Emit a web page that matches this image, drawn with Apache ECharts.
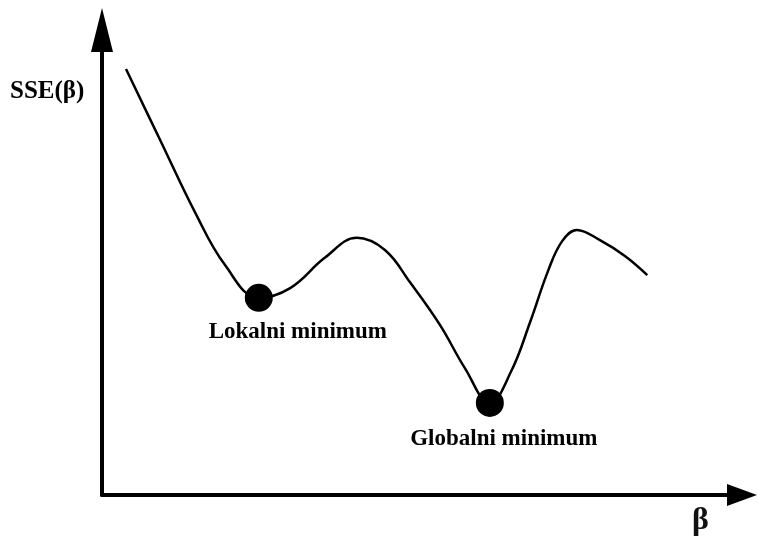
<!DOCTYPE html>
<html>
<head>
<meta charset="utf-8">
<script src="https://cdn.jsdelivr.net/npm/echarts@6/dist/echarts.min.js"></script>
<style>
  html, body { margin: 0; padding: 0; background: #fff; }
  #chart { width: 759px; height: 545px; }
</style>
</head>
<body>
<div id="chart"></div>
<script>
// SSE(β) krivulja - očitano sa slike
const betaValues = [0.375, 0.91, 1.45, 1.92, 2.45, 2.94, 3.48, 3.98, 4.42, 4.81, 5.28, 5.67, 6.06, 6.39, 6.69, 6.97, 7.19, 7.42, 7.78, 8.17, 8.52]
const sseValues = [9.16, 7.63, 6.09, 4.95, 4.24, 4.45, 5.10, 5.53, 5.27, 4.58, 3.66, 2.73, 1.98, 2.65, 3.72, 4.82, 5.46, 5.70, 5.48, 5.14, 4.73]

// minimumi
const minNames = ['Lokalni minimum', 'Globalni minimum']
const minBeta = [2.45, 6.06]
const minSse = [4.24, 1.98]
const labelOffsets = [[39, 34], [14, 36]]

const myChart = echarts.init(document.getElementById('chart'))
const font = '"Liberation Serif", "DejaVu Serif", serif'

const option = {
  animation: false,
  grid: { left: 102, right: 17, top: 30, bottom: 50 },
  xAxis: {
    type: 'value',
    min: 0,
    max: 10,
    axisLine: {
      show: true,
      symbol: ['none', 'triangle'],
      symbolSize: [22, 30],
      lineStyle: { color: '#000', width: 4 }
    },
    axisTick: { show: false },
    axisLabel: { show: false },
    splitLine: { show: false }
  },
  yAxis: {
    type: 'value',
    min: 0,
    max: 10,
    axisLine: {
      show: true,
      symbol: ['none', 'triangle'],
      symbolSize: [22, 44],
      lineStyle: { color: '#000', width: 4 }
    },
    axisTick: { show: false },
    axisLabel: { show: false },
    splitLine: { show: false }
  },
  graphic: [
    {
      type: 'text',
      left: 10,
      top: 79,
      style: { text: 'SSE(β)', fill: '#000', font: 'bold 25px ' + font }
    },
    {
      type: 'text',
      left: 692,
      top: 505,
      style: { text: 'β', fill: '#111', font: 'bold 32px ' + font }
    }
  ],
  series: [
    {
      type: 'line',
      smooth: 0.4,
      showSymbol: false,
      lineStyle: { color: '#000', width: 2.5 },
      data: betaValues.map((b, i) => [b, sseValues[i]])
    },
    {
      type: 'scatter',
      symbolSize: 28,
      itemStyle: { color: '#000', opacity: 1 },
      z: 3,
      data: minNames.map((n, i) => ({
        name: n,
        value: [minBeta[i], minSse[i]],
        label: {
          show: true,
          position: 'inside',
          offset: labelOffsets[i],
          formatter: '{b}',
          color: '#000',
          opacity: 1,
          fontFamily: font,
          fontWeight: 'bold',
          fontSize: 23
        }
      }))
    }
  ]
}
myChart.setOption(option)
</script>
</body>
</html>
